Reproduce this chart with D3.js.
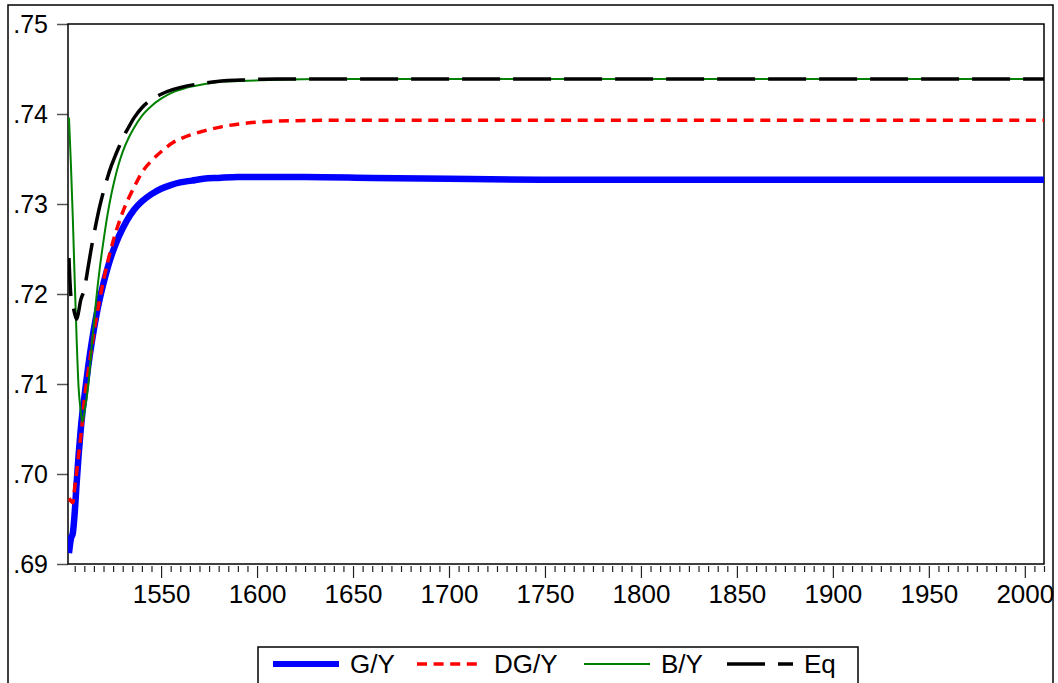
<!DOCTYPE html>
<html>
<head>
<meta charset="utf-8">
<script src="https://cdn.jsdelivr.net/npm/d3@7"></script>
<style>
  body { margin: 0; background: #fff; }
  svg { display: block; font-family: "Liberation Sans", Arial, sans-serif; }
</style>
</head>
<body>
<div id="chart"></div>
<script>
// series values: [year, value]
const gyData = [
  [1502, .6912], [1503, .6928], [1504, .6934], [1505, .6957], [1506, .6990],
  [1507, .7020], [1508, .7046], [1509, .7068], [1510, .7085], [1512, .7119],
  [1514, .7148], [1516, .7173], [1518, .7194], [1520, .7212], [1522, .7228],
  [1525, .7248], [1528, .7264], [1532, .7281], [1536, .7294], [1540, .7303],
  [1545, .7311], [1550, .7317], [1555, .7321], [1560, .7324], [1566, .7326],
  [1572, .7328], [1580, .7329], [1590, .7330], [1625, .7330], [1660, .7329],
  [1700, .7328], [1750, .7327], [1850, .7327], [2010, .7327]
];
const dgyData = [
  [1502, .6973], [1503, .6970], [1504, .6968], [1505, .6985], [1506, .7002],
  [1507, .7021], [1508, .7039], [1509, .7058], [1510, .7082], [1512, .7113],
  [1514, .7143], [1516, .7170], [1518, .7194], [1520, .7215], [1522, .7234],
  [1524, .7251], [1526, .7266], [1528, .7279], [1530, .7291], [1533, .7306],
  [1536, .7319], [1540, .7335], [1545, .7348], [1550, .7358], [1556, .7368],
  [1563, .7375], [1572, .7381], [1582, .7386], [1595, .7390], [1610, .7392],
  [1640, .7393], [1850, .7393], [2010, .7393]
];
const byData = [
  [1502, .7396], [1503, .7345], [1504, .7285], [1505, .7215], [1506, .7150],
  [1507, .7097], [1508, .7072], [1509, .7058], [1510, .7068], [1512, .7098],
  [1514, .7145], [1516, .7190], [1518, .7228], [1520, .7259], [1522, .7287],
  [1524, .7310], [1526, .7329], [1528, .7345], [1530, .7358], [1533, .7373],
  [1536, .7385], [1540, .7398], [1545, .7409], [1550, .7417], [1556, .7424],
  [1563, .7429], [1572, .7433], [1582, .7436], [1595, .7437], [1610, .7438],
  [1630, .7439], [1800, .7439], [2010, .7439]
];
const eqData = [
  [1502, .7240], [1503, .7198], [1504, .7188], [1505, .7178], [1506, .7172],
  [1507, .7180], [1508, .7192], [1510, .7205], [1512, .7230], [1514, .7255],
  [1516, .7277], [1518, .7297], [1520, .7314], [1522, .7329], [1524, .7342],
  [1526, .7353], [1528, .7363], [1530, .7373], [1533, .7385], [1536, .7396],
  [1540, .7407], [1545, .7416], [1550, .7422], [1556, .7427], [1563, .7431],
  [1572, .7434], [1583, .7437], [1595, .7438], [1610, .7439], [1800, .7439],
  [2010, .7439]
];

const seriesNames = ['G/Y', 'DG/Y', 'B/Y', 'Eq'];
const yTicks = [.69, .70, .71, .72, .73, .74, .75];
const xMajorTicks = [1550, 1600, 1650, 1700, 1750, 1800, 1850, 1900, 1950, 2000];
const xDomain = [1501.5, 2010];
const yDomain = [.69, .75];

const styles = [
  { color: '#0000ff', width: 6.5, dash: null },
  { color: '#ff0000', width: 3.5, dash: '10,6.6' },
  { color: '#008000', width: 2, dash: null },
  { color: '#000000', width: 3.5, dash: '38,13' }
];

const W = 1058, H = 683;
const plot = { left: 68, top: 24, right: 1044, bottom: 564 };

const svg = d3.select('#chart').append('svg')
  .attr('width', W)
  .attr('height', H);

// outer frame (bottom edge is off the picture)
svg.append('rect')
  .attr('x', 8).attr('y', 5)
  .attr('width', 1045).attr('height', 700)
  .attr('fill', 'none').attr('stroke', '#000').attr('stroke-width', 1.5);

const x = d3.scaleLinear().domain(xDomain).range([plot.left, plot.right]);
const y = d3.scaleLinear().domain(yDomain).range([plot.bottom, plot.top]);

// y axis
const yAxis = svg.append('g')
  .attr('transform', `translate(${plot.left},0)`)
  .call(d3.axisLeft(y).tickValues(yTicks).tickSize(11).tickPadding(9)
    .tickFormat(d => d3.format('.2f')(d).replace(/^0/, '')));
yAxis.select('.domain').remove();
yAxis.selectAll('line').attr('stroke', '#555').attr('stroke-width', 1.5);
yAxis.selectAll('text').style('font-size', '25px').attr('fill', '#000');

// x axis: minor ticks every 5 years, major every 50
const minorTicks = d3.range(1505, 2011, 5).filter(v => v % 50 !== 0);
const xMinor = svg.append('g')
  .attr('transform', `translate(0,${plot.bottom + 2})`)
  .call(d3.axisBottom(x).tickValues(minorTicks).tickSize(6).tickFormat(''));
xMinor.select('.domain').remove();
xMinor.selectAll('line').attr('stroke', '#222').attr('stroke-width', 1.2);

const xMajor = svg.append('g')
  .attr('transform', `translate(0,${plot.bottom + 2})`)
  .call(d3.axisBottom(x).tickValues(xMajorTicks).tickSize(12).tickPadding(7)
    .tickFormat(d3.format('d')));
xMajor.select('.domain').remove();
xMajor.selectAll('line').attr('stroke', '#222').attr('stroke-width', 1.2);
xMajor.selectAll('text').style('font-size', '26px').attr('fill', '#000');

// plot frame
svg.append('rect')
  .attr('x', plot.left).attr('y', plot.top)
  .attr('width', plot.right - plot.left).attr('height', plot.bottom - plot.top)
  .attr('fill', 'none').attr('stroke', '#000').attr('stroke-width', 1.5);

// lines
const line = d3.line()
  .x(d => x(d[0]))
  .y(d => y(d[1]))
  .curve(d3.curveMonotoneX);

const allData = [gyData, dgyData, byData, eqData];
svg.append('clipPath').attr('id', 'clip')
  .append('rect')
  .attr('x', plot.left).attr('y', plot.top - 5)
  .attr('width', plot.right - plot.left).attr('height', plot.bottom - plot.top + 5);

svg.append('g')
  .attr('clip-path', 'url(#clip)')
  .selectAll('path')
  .data(allData)
  .enter()
  .append('path')
  .attr('d', line)
  .attr('fill', 'none')
  .attr('stroke', (d, i) => styles[i].color)
  .attr('stroke-width', (d, i) => styles[i].width)
  .attr('stroke-dasharray', (d, i) => styles[i].dash);

// legend
const legend = svg.append('g');
legend.append('rect')
  .attr('x', 258).attr('y', 647)
  .attr('width', 600).attr('height', 60)
  .attr('fill', '#fff').attr('stroke', '#000').attr('stroke-width', 1.5);

const legendX = [273, 417, 584, 727];
const legendY = 664;
seriesNames.forEach((name, i) => {
  legend.append('line')
    .attr('x1', legendX[i]).attr('x2', legendX[i] + 66)
    .attr('y1', legendY).attr('y2', legendY)
    .attr('stroke', styles[i].color)
    .attr('stroke-width', i === 0 ? 6 : (i === 2 ? 2 : 3.5))
    .attr('stroke-dasharray', styles[i].dash);
  legend.append('text')
    .attr('x', legendX[i] + 77)
    .attr('y', legendY)
    .attr('dy', '0.35em')
    .style('font-size', '26px')
    .text(name);
});
</script>
</body>
</html>
